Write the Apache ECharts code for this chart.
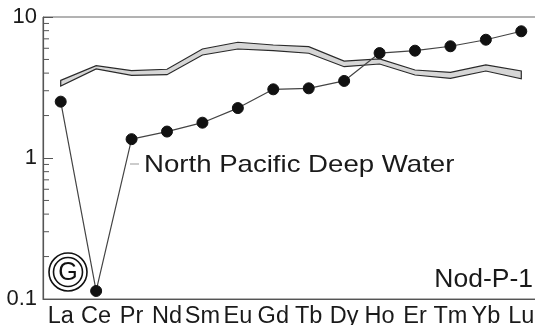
<!DOCTYPE html>
<html>
<head>
<meta charset="utf-8">
<script src="https://cdn.jsdelivr.net/npm/echarts@6/dist/echarts.min.js"></script>
<style>html,body{margin:0;padding:0;background:#fff}#c{width:535px;height:325px}</style>
</head>
<body>
<div id="c"></div>
<script>
var categories = ['La','Ce','Pr','Nd','Sm','Eu','Gd','Tb','Dy','Ho','Er','Tm','Yb','Lu'];
var nodValues = [2.51, 0.114, 1.36, 1.54, 1.78, 2.26, 3.07, 3.12, 3.52, 5.55, 5.77, 6.2, 6.9, 7.92];
var npdwUpper = [3.55, 4.52, 4.16, 4.26, 5.93, 6.62, 6.33, 6.16, 4.87, 5.04, 4.21, 4.05, 4.57, 4.14];
var npdwLower = [3.24, 4.28, 3.86, 3.90, 5.38, 5.93, 5.77, 5.53, 4.44, 4.64, 3.88, 3.67, 4.14, 3.65];
var minorTickValues = [0.2,0.3,0.4,0.5,0.6,0.7,0.8,0.9,2,3,4,5,6,7,8,9];
var yTickLabels = {'0.1':'0.1','1':'1','10':'10'};

var FONT = '"Liberation Sans", Arial, sans-serif';
var chart = echarts.init(document.getElementById('c'), null, {renderer:'canvas'});

chart.setOption({
  animation: false,
  grid: {left: 43, top: 17, bottom: 26, right: -4, show: true, borderColor: '#666', borderWidth: 1,
         containLabel: false, outerBoundsMode: 'none'},
  xAxis: {
    type: 'category', data: categories, boundaryGap: true,
    axisLine: {lineStyle: {color: '#555', width: 1.2}},
    axisTick: {inside: true, length: 5, lineStyle: {color: '#555'}},
    axisLabel: {fontFamily: FONT, fontSize: 23.5, color: '#1a1a1a', margin: 6, interval: 0}
  },
  yAxis: {
    type: 'log', logBase: 10, min: 0.1, max: 10,
    axisLine: {show: true, lineStyle: {color: '#555', width: 1.2}},
    axisTick: {show: true, inside: true, length: 10, lineStyle: {color: '#555'}},
    splitLine: {show: false},
    axisLabel: {fontFamily: FONT, fontSize: 22, color: '#1a1a1a', margin: 6,
      formatter: function(v){ var k = String(+v.toPrecision(3)); return yTickLabels[k] || k; }}
  },
  series: [
    {
      type: 'custom', data: [[0, 1]], silent: true, z: 1,
      renderItem: function(params, api) {
        var pts = [];
        for (var i = 0; i < categories.length; i++) pts.push(api.coord([i, npdwUpper[i]]));
        for (var j = categories.length - 1; j >= 0; j--) pts.push(api.coord([j, npdwLower[j]]));
        return {type: 'polygon', shape: {points: pts}, style: {fill: '#d6d6d6', stroke: '#2a2a2a', lineWidth: 1.2}};
      }
    },
    {
      type: 'custom', data: [[0, 1]], silent: true, z: 1,
      renderItem: function(params, api) {
        var cs = params.coordSys;
        var children = [];
        for (var i = 0; i < minorTickValues.length; i++) {
          var y = api.coord([0, minorTickValues[i]])[1];
          children.push({type: 'line', shape: {x1: cs.x, y1: y, x2: cs.x + 6, y2: y}, style: {stroke: '#555', lineWidth: 1}});
        }
        return {type: 'group', children: children};
      }
    },
    {
      type: 'line', data: nodValues, z: 3,
      lineStyle: {color: '#444', width: 1.2},
      symbol: 'circle', symbolSize: 11,
      itemStyle: {color: '#111', borderColor: '#111'}
    }
  ],
  graphic: [
    {type: 'line', shape: {x1: 130, y1: 164, x2: 139, y2: 164}, style: {stroke: '#999', lineWidth: 1}},
    {type: 'text', x: 144, y: 165, scaleX: 1.15, style: {text: 'North Pacific Deep Water', font: '24px ' + FONT, fill: '#1a1a1a', verticalAlign: 'middle'}},
    {type: 'text', x: 533, y: 280, scaleX: 1.06, style: {text: 'Nod-P-1', font: '25px ' + FONT, fill: '#1a1a1a', align: 'right', verticalAlign: 'middle'}},
    {type: 'circle', shape: {cx: 68, cy: 272, r: 19}, style: {fill: 'none', stroke: '#111', lineWidth: 1.6}},
    {type: 'circle', shape: {cx: 68, cy: 272, r: 14.5}, style: {fill: 'none', stroke: '#111', lineWidth: 1.6}},
    {type: 'text', x: 68, y: 273, style: {text: 'G', font: '25px ' + FONT, fill: '#111', align: 'center', verticalAlign: 'middle'}}
  ]
});
</script>
</body>
</html>
